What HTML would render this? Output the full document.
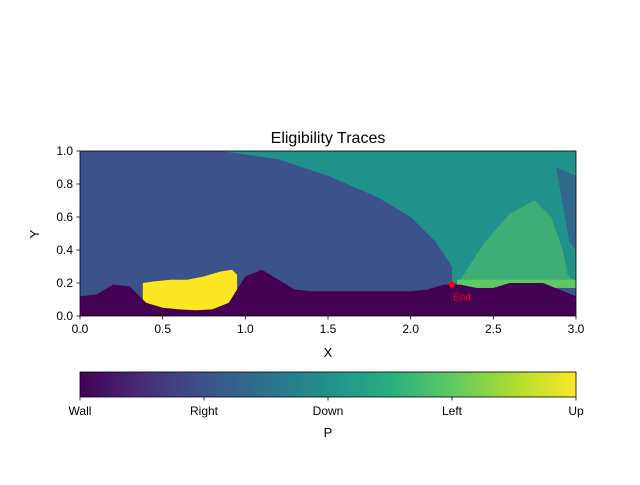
<!DOCTYPE html>
<html><head><meta charset="utf-8"><style>
body{margin:0;background:#fff;}
svg text{font-family:"Liberation Sans","DejaVu Sans",sans-serif;fill:#000;}
</style></head><body>
<svg id="chart" width="640" height="480" viewBox="0 0 640 480">
<defs>
<linearGradient id="viridis" x1="0" x2="1" y1="0" y2="0">
<stop offset="0" stop-color="#440154"/><stop offset="0.125" stop-color="#472c7a"/><stop offset="0.25" stop-color="#3b528b"/><stop offset="0.375" stop-color="#2c728e"/><stop offset="0.5" stop-color="#21918c"/><stop offset="0.625" stop-color="#28ae80"/><stop offset="0.75" stop-color="#5ec962"/><stop offset="0.875" stop-color="#addc30"/><stop offset="1" stop-color="#fde725"/>
</linearGradient>
<clipPath id="plotclip"><rect x="80" y="151" width="496" height="165"/></clipPath>
</defs>
<text x="328" y="143" text-anchor="middle" font-size="16">Eligibility Traces</text>
<g id="heat" clip-path="url(#plotclip)"></g>
<g id="axes"></g>
<text x="328" y="357" text-anchor="middle" font-size="13">X</text>
<text x="39" y="234" text-anchor="middle" font-size="13" transform="rotate(-90 39 234)">Y</text>
<rect x="80" y="372" width="496" height="25" fill="url(#viridis)" stroke="#000" stroke-width="0.8"/>
<g id="cbticks"></g>
<text x="328" y="437" text-anchor="middle" font-size="13">P</text>
</svg>
<script>
const xTicks=[0,0.5,1,1.5,2,2.5,3];
const yTicks=[0,0.2,0.4,0.6,0.8,1.0];
const cbLabels=["Wall","Right","Down","Left","Up"];
const gridX=[0,0.1,0.2,0.3,0.4,0.5,0.6,0.7,0.8,0.9,1.0,1.1,1.2,1.3,1.4,1.5,1.6,1.7,1.8,1.9,2.0,2.1,2.2,2.3,2.4,2.5,2.6,2.7,2.8,2.9,3.0];
const wallTop=[0.12,0.13,0.19,0.18,0.08,0.05,0.04,0.035,0.04,0.08,0.24,0.28,0.22,0.16,0.15,0.15,0.15,0.15,0.15,0.15,0.15,0.16,0.19,0.19,0.17,0.17,0.2,0.2,0.2,0.16,0.12];
const upX=[0.38,0.45,0.55,0.65,0.75,0.85,0.92,0.95];
const upTop=[0.2,0.21,0.22,0.22,0.24,0.27,0.28,0.25];
const downX=[0.85,1.2,1.5,1.8,2.0,2.15,2.25,2.25,3.0];
const downY=[1.0,0.95,0.85,0.72,0.6,0.45,0.3,0.2,0.2];
const leftX=[2.3,2.45,2.6,2.75,2.85,2.92,2.95,3.0];
const leftY=[0.22,0.45,0.62,0.7,0.6,0.4,0.25,0.2];
const endPt=[2.25,0.19];
const ns="http://www.w3.org/2000/svg";
const sx=v=>80+v/3*496, sy=v=>316-v*165;
function mk(tag,attrs,parent){const e=document.createElementNS(ns,tag);for(const k in attrs)e.setAttribute(k,attrs[k]);parent.appendChild(e);return e;}
const heat=document.getElementById('heat');
let r=mk('rect',{x:80,y:151,width:496,height:165,fill:'#3b528b'},heat);


// down region
let pts=[[sx(3),sy(1)]];downX.forEach((x,i)=>pts.push([sx(x),sy(downY[i])]));pts.push([sx(3),sy(0)]);
let p=mk('polygon',{points:pts.map(a=>a.join(',')).join(' '),fill:'#21918c'},heat);


// right-edge blue strip
p=mk('polygon',{points:[[sx(2.88),sy(0.9)],[sx(3),sy(0.85)],[sx(3),sy(0.4)],[sx(2.96),sy(0.45)]].map(a=>a.join(',')).join(' '),fill:'#2f6a8d'},heat);


// left region (mixed)
pts=leftX.map((x,i)=>[sx(x),sy(leftY[i])]);
p=mk('polygon',{points:pts.map(a=>a.join(',')).join(' '),fill:'#3fad76'},heat);


p=mk('rect',{x:sx(2.28),y:sy(0.22),width:sx(3)-sx(2.28),height:sy(0.17)-sy(0.22),fill:'#5ec962'},heat);


// up blob
pts=upX.map((x,i)=>[sx(x),sy(upTop[i])]);pts.push([sx(0.95),sy(0)],[sx(0.38),sy(0)]);
p=mk('polygon',{points:pts.map(a=>a.join(',')).join(' '),fill:'#fde725'},heat);


// wall
pts=gridX.map((x,i)=>[sx(x),sy(wallTop[i])]);pts.push([sx(3),sy(0)],[sx(0),sy(0)]);
p=mk('polygon',{points:pts.map(a=>a.join(',')).join(' '),fill:'#440154'},heat);


// end marker
let c=mk('circle',{cx:sx(endPt[0]),cy:sy(endPt[1]),r:3,fill:'#ff0000'},document.getElementById('chart'));


let t=mk('text',{x:sx(endPt[0])+1,y:sy(endPt[1])+16,'font-size':10},document.getElementById('chart'));
t.style.fill='#ff0000';t.textContent='End';


// axes
const ax=document.getElementById('axes');
let f=mk('rect',{x:80,y:151,width:496,height:165,fill:'none',stroke:'#000','stroke-width':0.8},ax);


xTicks.forEach(v=>{mk('line',{x1:sx(v),x2:sx(v),y1:316,y2:319.5,stroke:'#000','stroke-width':0.8},ax);
let tt=mk('text',{x:sx(v),y:333,'text-anchor':'middle','font-size':12},ax);tt.textContent=v.toFixed(1);

});
yTicks.forEach(v=>{mk('line',{x1:76.5,x2:80,y1:sy(v),y2:sy(v),stroke:'#000','stroke-width':0.8},ax);
let tt=mk('text',{x:73,y:sy(v)+4,'text-anchor':'end','font-size':12},ax);tt.textContent=v.toFixed(1);

});
const cb=document.getElementById('cbticks');
cbLabels.forEach((l,i)=>{const x=80+i*124;mk('line',{x1:x,x2:x,y1:397,y2:400.5,stroke:'#000','stroke-width':0.8},cb);
let tt=mk('text',{x:x,y:415,'text-anchor':'middle','font-size':12},cb);tt.textContent=l;

});
</script>
</body></html>
